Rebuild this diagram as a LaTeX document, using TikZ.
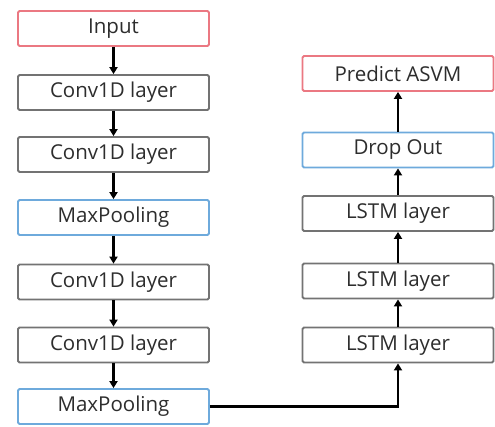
\documentclass[tikz,border=0pt]{standalone}
\usepackage{fontspec}
\setmainfont{Open Sans}
\usetikzlibrary{arrows.meta}
\definecolor{IOClr}{RGB}{235,120,130}
\definecolor{PoolClr}{RGB}{110,170,220}
\definecolor{LayerClr}{RGB}{115,115,115}
\definecolor{TextClr}{RGB}{45,45,45}

\begin{document}
\begin{tikzpicture}[x=1pt,y=-1pt,
  layer/.style={draw=LayerClr,line width=1.8pt,rounded corners=1.5pt,fill=white,text=TextClr,
    minimum width=191pt,minimum height=35pt,inner sep=0pt,font=\fontsize{20.5}{24}\selectfont},
  io/.style={layer,draw=IOClr},
  pool/.style={layer,draw=PoolClr},
  flow/.style={line width=2.8pt,-{Triangle[length=7pt,width=8pt]}}]
\useasboundingbox (0,0) rectangle (495,426);

% Conv1D branch.
\node[io]    (input) at (113.5,28.5)  {Input};
\node[layer] (convA) at (113.5,92.5)  {Conv1D layer};
\node[layer] (convB) at (113.5,154.5) {Conv1D layer};
\node[pool]  (poolA) at (113.5,217.5) {MaxPooling};
\node[layer] (convC) at (113.5,282)   {Conv1D layer};
\node[layer] (convD) at (113.5,345)   {Conv1D layer};
\node[pool]  (poolB) at (113.5,406.5) {MaxPooling};

% LSTM branch.
\node[layer] (lstmA) at (398,345)   {LSTM layer};
\node[layer] (lstmB) at (398,281)   {LSTM layer};
\node[layer] (lstmC) at (398,213.5) {LSTM layer};
\node[pool]  (drop)  at (398,150)   {Drop Out};
\node[io]    (pred)  at (398,73.5)  {Predict ASVM};

% Arrows.
\draw[flow] (input) -- (convA);
\draw[flow] (convA) -- (convB);
\draw[flow] (convB) -- (poolA);
\draw[flow] (poolA) -- (convC);
\draw[flow] (convC) -- (convD);
\draw[flow] (convD) -- (poolB);
\draw[flow] (poolB.east) -| (lstmA.south);
\draw[flow] (lstmA) -- (lstmB);
\draw[flow] (lstmB) -- (lstmC);
\draw[flow] (lstmC) -- (drop);
\draw[flow] (drop) -- (pred);

\end{tikzpicture}
\end{document}
